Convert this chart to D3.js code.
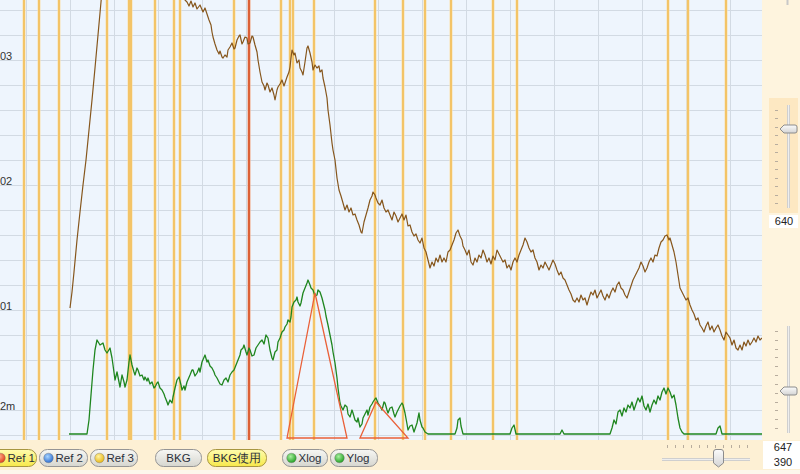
<!DOCTYPE html>
<html><head><meta charset="utf-8">
<script src="https://cdn.jsdelivr.net/npm/d3@7/dist/d3.min.js"></script>
<style>
body{margin:0;background:#fff;}
svg{display:block;font-family:"Liberation Sans",Arial,sans-serif;}
</style>
</head><body>
<svg id="c" width="800" height="474"></svg>
<script>
// ---------------- data ----------------
// channel / counts of measured spectrum (brown)
const spectrum = [
[70,132],[72,148],[74,168],[77,200],[80,228],[83,255],[86,280],[89,310],[92,340],[95,372],[98,405],[101,438],[103,460],
[110,520],[130,590],[160,560],[180,470],[185,440],
[187,438],[189,434],[191,439],[193,433],[195,437],[197,431],[200,435],[203,428],[205,432],[207,426],[209,420],[211,415],[212,408],[213,403],[215,396],[217,390],[219,386],[220,389],[222,383],[223,382],[225,385],[227,383],[228,390],[230,393],[232,397],[234,391],[235,392],[237,400],[239,404],[240,405],[242,396],[243,398],[245,403],[247,402],[248,396],[250,397],[252,404],[253,403],[255,395],[257,388],[258,380],[260,368],[262,358],[264,354],[265,350],[267,357],[268,355],[270,348],[272,352],[274,345],[275,340],[277,350],[278,353],[280,356],[282,360],[284,354],[285,357],[287,363],[289,368],[290,373],[291,382],[292,390],[294,385],[295,387],[297,377],[299,380],[300,372],[302,368],[303,365],[305,378],[307,392],[308,394],[310,387],[312,378],[313,370],[315,375],[317,372],[319,374],[320,368],[322,370],[323,362],[325,353],[327,342],[328,330],[330,315],[332,297],[333,290],[335,280],[337,262],[339,250],[341,244],[343,237],[345,230],[347,235],[349,228],[351,232],[353,225],[355,226],[357,220],[359,215],[361,208],[362,207],[364,218],[366,225],[368,232],[370,240],[372,244],[373,248],[375,245],[376,242],[378,237],[380,235],[382,240],[384,232],[386,228],[388,230],[390,225],[392,220],[394,228],[396,224],[398,218],[400,222],[402,226],[404,220],[406,225],[408,214],[410,215],[412,208],[414,204],[416,206],[418,200],[420,197],[422,202],[424,192],[426,188],[428,180],[430,172],[432,178],[434,174],[436,182],[438,178],[440,185],[442,178],[444,182],[446,178],[448,188],[450,190],[452,195],[454,200],[456,207],[458,210],[460,204],[462,200],[463,194],[465,190],[467,185],[469,190],[471,178],[473,175],[475,182],[477,178],[479,185],[481,182],[483,190],[485,185],[487,178],[489,182],[491,176],[493,184],[495,180],[497,190],[499,186],[501,182],[503,178],[505,180],[507,172],[509,175],[511,170],[513,178],[515,182],[517,178],[519,185],[521,190],[523,195],[525,202],[527,198],[529,192],[531,188],[533,190],[535,182],[537,178],[539,170],[541,175],[543,172],[545,178],[547,174],[549,170],[551,175],[553,180],[555,176],[557,170],[559,165],[561,168],[563,162],[565,160],[567,155],[569,150],[571,146],[573,140],[575,138],[577,142],[579,138],[581,145],[583,140],[585,142],[587,135],[589,142],[591,148],[593,145],[595,150],[597,142],[599,146],[601,150],[603,144],[605,140],[607,146],[609,142],[611,148],[613,152],[615,148],[617,155],[619,158],[621,152],[623,150],[625,145],[627,142],[629,148],[631,154],[633,160],[635,164],[637,168],[639,172],[641,178],[643,174],[645,168],[647,172],[649,178],[651,182],[653,178],[655,185],[657,184],[659,192],[661,198],[663,200],[665,204],[667,205],[669,200],[670,202],[672,195],[674,188],[676,178],[678,165],[680,152],[682,148],[684,144],[686,140],[688,142],[690,135],[692,130],[694,126],[696,120],[698,122],[700,115],[702,112],[704,108],[706,114],[708,118],[710,110],[712,114],[714,108],[716,112],[718,115],[720,110],[722,104],[724,100],[726,108],[728,105],[730,102],[732,95],[734,100],[736,92],[738,90],[740,95],[742,90],[744,98],[746,94],[748,100],[750,95],[752,98],[754,102],[756,98],[758,104],[760,100],[762,102]
];
// channel / counts of reference spectrum (green)
const reference = [
[69,6],[87,6],[89,20],[91,45],[93,70],[95,90],[97,100],[100,95],[103,97],[105,90],[107,87],[110,92],[112,82],[113,75],[115,60],[117,68],[118,63],[120,53],[122,65],[124,58],[125,53],[127,60],[129,78],[130,85],[132,75],[134,68],[135,65],[137,72],[138,70],[140,64],[142,65],[144,60],[145,63],[147,59],[148,62],[150,56],[152,58],[154,52],[155,53],[157,57],[158,58],[160,52],[162,50],[164,46],[165,43],[167,38],[168,35],[170,40],[172,37],[173,43],[175,52],[177,60],[179,63],[181,55],[182,50],[184,54],[185,50],[187,58],[190,65],[192,70],[193,70],[195,64],[197,67],[199,72],[200,68],[202,78],[205,85],[207,78],[208,80],[210,74],[212,72],[214,68],[215,65],[217,62],[218,60],[220,56],[222,55],[224,60],[226,62],[228,58],[230,65],[232,68],[234,70],[236,75],[238,80],[240,85],[241,90],[243,92],[244,95],[246,88],[247,85],[249,92],[250,90],[252,84],[254,85],[256,92],[258,95],[260,98],[262,100],[264,96],[266,105],[268,102],[270,90],[272,82],[273,80],[275,88],[277,90],[278,98],[280,102],[282,108],[284,110],[285,113],[287,116],[288,120],[290,118],[291,123],[292,133],[294,138],[296,140],[297,143],[298,138],[300,134],[301,137],[303,147],[305,152],[307,157],[308,160],[310,155],[311,152],[313,150],[315,144],[317,145],[318,150],[320,148],[322,142],[323,138],[325,130],[326,124],[328,115],[330,105],[332,95],[333,88],[335,77],[337,62],[338,52],[340,37],[341,34],[343,30],[345,35],[347,33],[348,26],[350,23],[352,30],[353,27],[355,20],[357,18],[358,22],[360,13],[362,16],[363,22],[365,26],[367,30],[368,25],[370,33],[372,36],[373,38],[375,41],[376,42],[378,37],[380,34],[382,30],[384,38],[385,37],[387,30],[388,27],[390,32],[392,33],[394,26],[395,23],[397,28],[398,30],[400,34],[402,37],[403,35],[405,27],[407,16],[408,10],[410,14],[412,15],[414,8],[416,14],[417,17],[419,27],[420,20],[422,13],[423,12],[425,8],[428,6],
[455,6],[457,12],[458,20],[460,22],[461,14],[463,6],[510,6],[512,12],[514,15],[516,6],[560,6],[562,10],[564,6],
[610,6],[612,12],[614,20],[616,16],[618,28],[620,30],[622,24],[624,32],[626,28],[628,35],[630,32],[632,38],[634,30],[636,36],[638,42],[640,38],[642,44],[644,34],[646,30],[648,36],[650,28],[652,35],[654,40],[656,36],[658,44],[660,40],[662,48],[664,52],[666,46],[668,52],[670,48],[672,42],[674,45],[676,35],[678,22],[680,12],[682,8],[684,6],
[716,6],[718,12],[720,14],[722,6],[762,6]
];
// fitted peak triangles (channel, counts)
const peaks = [
  [[287,2],[315,147],[347,2]],
  [[360,2],[376,38],[408,2]]
];
// marker channels
const markers = [24,39,59,107,129,131,155,174,180,234,281,290,293,314,375,403,425,451,493,517,668,688,726];
const selectedMarker = 249;
// y tick labels (cut-off exponents)
const yTickValues = [380,255,130,30];
const yTickLabels = ["03","02","01","2m"];
// toolbar buttons
const buttonLabels = ["Ref 1","Ref 2","Ref 3","BKG","BKG使用","Xlog","Ylog"];
const buttonIcons  = ["red","blue","yellow",null,null,"green","green"];
const buttonActive = [true,false,false,false,true,false,false];
// side values
const sideValue = "640";
const bottomValues = ["647","390"];

// ---------------- layout ----------------
const PW = 762, PH = 440;
const svg = d3.select("#c");
const x = d3.scaleLinear().domain([0,762]).range([0,PW]);
const y = d3.scaleLinear().domain([0,440]).range([PH,0]);
const xGrid = d3.range(26, 740, 44);
const yGrid = d3.range(430, 0, -25);

const defs = svg.append("defs");
defs.append("clipPath").attr("id","plotclip").append("rect").attr("width",PW).attr("height",PH);
function vgrad(id, c1, c2){
  const g = defs.append("linearGradient").attr("id",id).attr("x1",0).attr("y1",0).attr("x2",0).attr("y2",1);
  g.append("stop").attr("offset","0%").attr("stop-color",c1);
  g.append("stop").attr("offset","100%").attr("stop-color",c2);
}
vgrad("btnGray","#f7f7f4","#d6d6cf");
vgrad("btnYellow","#fffcae","#f7e84a");
vgrad("thumb","#fbfbfb","#d4d4d4");
const iconCol = {red:["#ffb08a","#e0401a"],blue:["#a8d4ff","#2f6fd0"],yellow:["#fff2a0","#e8b818"],green:["#a8f0a0","#24a024"]};
Object.entries(iconCol).forEach(([k,v])=>{
  const g = defs.append("radialGradient").attr("id","ic_"+k).attr("cx","40%").attr("cy","35%").attr("r","65%");
  g.append("stop").attr("offset","0%").attr("stop-color",v[0]);
  g.append("stop").attr("offset","100%").attr("stop-color",v[1]);
});

// plot background
svg.append("rect").attr("width",PW).attr("height",PH).attr("fill","#eef5fd");
const plot = svg.append("g").attr("clip-path","url(#plotclip)");

// grid
plot.append("g").selectAll("line").data(yGrid).join("line")
  .attr("x1",0).attr("x2",PW).attr("y1",d=>y(d)+0.5).attr("y2",d=>y(d)+0.5)
  .attr("stroke","#d2dae3").attr("stroke-width",1);
plot.append("g").selectAll("line").data(xGrid).join("line")
  .attr("y1",0).attr("y2",PH).attr("x1",d=>Math.round(x(d))+0.5).attr("x2",d=>Math.round(x(d))+0.5)
  .attr("stroke","#d2dae3").attr("stroke-width",1);

// markers
const mg = plot.append("g");
mg.selectAll("line.halo").data(markers).join("line").attr("class","halo")
  .attr("y1",0).attr("y2",PH).attr("x1",d=>x(d)).attr("x2",d=>x(d))
  .attr("stroke","#fae2ad").attr("stroke-width",3);
mg.selectAll("line.core").data(markers).join("line").attr("class","core")
  .attr("y1",0).attr("y2",PH).attr("x1",d=>x(d)).attr("x2",d=>x(d))
  .attr("stroke","#f0b443").attr("stroke-width",1.3);
mg.append("line").attr("y1",0).attr("y2",PH).attr("x1",x(selectedMarker)).attr("x2",x(selectedMarker))
  .attr("stroke","#f2b093").attr("stroke-width",3.2);
mg.append("line").attr("y1",0).attr("y2",PH).attr("x1",x(selectedMarker)).attr("x2",x(selectedMarker))
  .attr("stroke","#d9582e").attr("stroke-width",1.8);

// lines
const line = d3.line().x(d=>x(d[0])).y(d=>y(d[1]));
plot.append("path").datum(reference).attr("d",line).attr("fill","none")
  .attr("stroke","#1f861f").attr("stroke-width",1.3).attr("stroke-linejoin","round");
plot.append("path").datum(spectrum).attr("d",line).attr("fill","none")
  .attr("stroke","#86561c").attr("stroke-width",1.2).attr("stroke-linejoin","round");
plot.append("g").selectAll("path").data(peaks).join("path")
  .attr("d",d=>line(d)+"Z").attr("fill","none").attr("stroke","#ea6038").attr("stroke-width",1.3);

// y labels
svg.append("g").selectAll("text").data(yTickValues).join("text")
  .attr("x",0).attr("y",d=>y(d)-4).attr("dy","0.35em")
  .attr("font-size",11).attr("fill","#333").text((d,i)=>yTickLabels[i]);

// ---------------- right panel ----------------
svg.append("rect").attr("x",PW).attr("y",0).attr("width",800-PW).attr("height",PH).attr("fill","#fef4de");
svg.append("line").attr("x1",787.5).attr("x2",787.5).attr("y1",0).attr("y2",5).attr("stroke","#c8c8c8").attr("stroke-width",2);
svg.append("rect").attr("x",769).attr("y",98).attr("width",29).attr("height",115).attr("fill","#fde8c2");

function vSlider(top, bottom, thumbY, nTicks){
  const g = svg.append("g");
  g.append("line").attr("x1",788.5).attr("x2",788.5).attr("y1",top).attr("y2",bottom)
    .attr("stroke","#cfcfcf").attr("stroke-width",3);
  g.append("line").attr("x1",788.5).attr("x2",788.5).attr("y1",top).attr("y2",bottom)
    .attr("stroke","#eeeeee").attr("stroke-width",1);
  const ts = d3.scaleLinear().domain([0,nTicks-1]).range([top+5,bottom-5]);
  g.selectAll("line.t").data(d3.range(nTicks)).join("line").attr("class","t")
    .attr("x1",775).attr("x2",778).attr("y1",d=>Math.round(ts(d))+0.5).attr("y2",d=>Math.round(ts(d))+0.5)
    .attr("stroke","#b8ad9e").attr("stroke-width",1);
  g.append("path")
    .attr("d",`M780,${thumbY} L784,${thumbY-4} L795,${thumbY-4} Q797,${thumbY-4} 797,${thumbY-2} L797,${thumbY+2} Q797,${thumbY+4} 795,${thumbY+4} L784,${thumbY+4} Z`)
    .attr("fill","url(#thumb)").attr("stroke","#8c8c8c").attr("stroke-width",1);
}
vSlider(105,208,129,12);
vSlider(326,433,391,12);
svg.append("rect").attr("x",769).attr("y",215).attr("width",29).attr("height",13).attr("fill","#ffffff");
svg.append("text").attr("x",784).attr("y",221.5).attr("dy","0.35em").attr("text-anchor","middle")
  .attr("font-size",11).attr("fill","#222").text(sideValue);

// ---------------- toolbar ----------------
svg.append("rect").attr("x",0).attr("y",PH).attr("width",800).attr("height",474-PH).attr("fill","#fdf0d4");
svg.append("rect").attr("x",0).attr("y",470).attr("width",800).attr("height",4).attr("fill","#fdf7ec");

const btnX = [-9,39,90,155,207,282,330];
const btnW = [45,48,47,46,59,45,47];
const bg = svg.append("g");
buttonLabels.forEach((lab,i)=>{
  const g = bg.append("g").attr("transform",`translate(${btnX[i]},449)`);
  g.append("rect").attr("x",0.5).attr("y",0.5).attr("width",btnW[i]).attr("height",17).attr("rx",8)
    .attr("fill",buttonActive[i]?"url(#btnYellow)":"url(#btnGray)")
    .attr("stroke",buttonActive[i]?"#a89640":"#959595").attr("stroke-width",1);
  let tx = btnW[i]/2+0.5, anchor="middle";
  if(buttonIcons[i]){
    g.append("circle").attr("cx",9.5).attr("cy",9).attr("r",4.8)
      .attr("fill",`url(#ic_${buttonIcons[i]})`).attr("stroke","#777").attr("stroke-width",0.4);
    tx = 16.5; anchor="start";
  }
  g.append("text").attr("x",tx).attr("y",9.2).attr("dy","0.35em").attr("text-anchor",anchor)
    .attr("font-size",11.5).attr("fill","#2a2f3a").text(lab);
});

// bottom slider
const hs = d3.scaleLinear().domain([0,10]).range([667,747]);
svg.append("g").selectAll("line").data(d3.range(11)).join("line")
  .attr("x1",d=>Math.round(hs(d))+0.5).attr("x2",d=>Math.round(hs(d))+0.5).attr("y1",445).attr("y2",448)
  .attr("stroke","#b8ad9e");
svg.append("line").attr("x1",662).attr("x2",750).attr("y1",459.5).attr("y2",459.5).attr("stroke","#cfcfcf").attr("stroke-width",3);
svg.append("line").attr("x1",662).attr("x2",750).attr("y1",459.5).attr("y2",459.5).attr("stroke","#eeeeee").attr("stroke-width",1);
svg.append("path").attr("d","M713.5,463 L713.5,452 Q713.5,449.5 716,449.5 L721,449.5 Q723.5,449.5 723.5,452 L723.5,463 L718.5,467 Z")
  .attr("fill","url(#thumb)").attr("stroke","#8c8c8c");
svg.append("rect").attr("x",763).attr("y",441).attr("width",37).attr("height",28).attr("fill","#ffffff");
svg.append("g").selectAll("text").data(bottomValues).join("text")
  .attr("x",783).attr("y",(d,i)=>447.5+i*15).attr("dy","0.35em").attr("text-anchor","middle")
  .attr("font-size",11).attr("fill","#222").text(d=>d);
</script>
</body></html>
